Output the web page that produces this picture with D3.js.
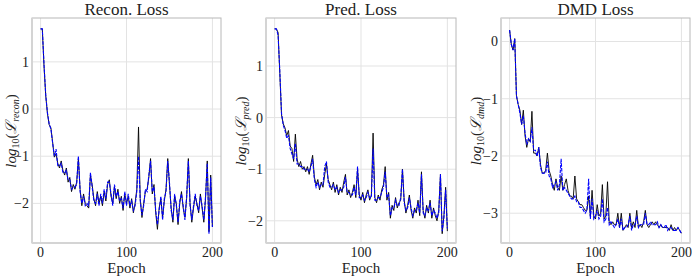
<!DOCTYPE html>
<html lang="en">
<head>
<meta charset="UTF-8">
<title>Loss curves | D3</title>
<style>
  body { margin: 0; background: #fff; }
  text { font-family: "Liberation Serif", "DejaVu Serif", serif; fill: #222; }
</style>
</head>
<body>
<div id="container"></div>
<script src="https://d3js.org/d3.v7.min.js"></script>
<script>
// epochs sampled every 2 steps
var epochs = d3.range(0, 201, 2);
var xTicks = [0, 100, 200];

var reconBlack = [
  1.70, 1.70, 0.9, 0.28, -0.1, -0.33, -0.40, -0.7, -1.02, -0.95,
  -1.15, -1.25, -1.1, -1.3, -1.4, -1.25, -1.55, -1.45, -1.75, -1.6,
  -1.7, -1.55, -1.05, -1.7, -2.05, -1.8, -2.0, -2.05, -2.1, -1.4,
  -1.6, -1.9, -2.05, -1.75, -2.0, -1.85, -2.05, -1.75, -1.95, -1.6,
  -1.5, -1.85, -2.0, -1.65, -1.9, -1.7, -2.0, -1.85, -2.15, -1.8,
  -2.0, -1.85, -2.1, -1.9, -2.2, -2.0, -1.7, -0.38, -1.9, -2.3,
  -2.0, -1.75, -1.7, -1.45, -1.05, -1.8, -1.6, -2.2, -2.55, -2.1,
  -1.9, -2.3, -1.95, -1.7, -1.05, -1.6, -2.1, -2.4, -1.85, -2.0,
  -2.45, -2.0, -1.75, -2.1, -2.3, -1.9, -1.05, -2.0, -2.4, -2.1,
  -1.85, -2.0, -2.2, -1.8, -2.1, -2.4, -1.9, -1.1, -2.6, -1.4,
  -2.5
];
var reconBlue = [
  1.70, 1.70, 0.95, 0.30, -0.08, -0.32, -0.42, -0.72, -1.0, -0.85,
  -1.2, -1.2, -1.15, -1.35, -1.35, -1.3, -1.5, -1.5, -1.7, -1.65,
  -1.65, -1.6, -1.0, -1.75, -2.0, -1.85, -2.05, -2.0, -2.05, -1.35,
  -1.65, -1.95, -2.0, -1.8, -2.05, -1.8, -2.0, -1.7, -1.9, -1.55,
  -1.55, -1.8, -2.05, -1.6, -1.85, -1.75, -1.95, -1.9, -2.1, -1.75,
  -2.05, -1.8, -2.05, -1.95, -2.15, -2.05, -1.75, -1.0, -1.95, -2.25,
  -2.05, -1.7, -1.75, -1.4, -1.1, -1.75, -1.65, -2.15, -2.45, -2.15,
  -1.85, -2.35, -1.9, -1.75, -1.1, -1.55, -2.15, -2.35, -1.8, -2.05,
  -2.4, -1.95, -1.8, -2.05, -2.35, -1.85, -1.1, -2.05, -2.35, -2.05,
  -1.8, -2.05, -2.15, -1.85, -2.05, -2.35, -1.85, -1.15, -2.65, -1.45,
  -2.5
];

var predBlack = [
  1.72, 1.72, 1.65, 0.85, 0.05, -0.12, -0.2, -0.35, -0.25, -0.55,
  -0.6, -0.85, -0.32, -0.8, -0.95, -0.85, -1.0, -0.95, -1.05, -0.95,
  -1.1, -0.9, -0.73, -1.15, -1.3, -1.2, -1.4, -1.25, -1.35, -1.1,
  -0.9, -1.2, -1.3, -1.4, -1.25, -1.45, -1.3, -1.5, -1.35, -1.45,
  -1.25, -1.1, -1.5, -1.4, -1.55, -1.45, -1.3, -1.55, -1.0, -1.5,
  -1.6, -1.45, -1.65, -1.5, -1.4, -1.6, -1.5, -0.3, -1.55, -1.65,
  -1.5, -1.6, -1.4, -1.3, -0.95, -1.6, -1.45, -1.95, -1.7, -1.8,
  -1.55, -1.75, -1.65, -1.6, -1.0, -1.6, -1.85, -1.7, -1.5, -1.8,
  -1.95, -1.75, -1.85, -1.6, -1.9, -1.05, -1.8, -1.95, -1.7, -1.85,
  -1.6, -1.95, -1.75, -1.9, -2.0, -1.8, -1.1, -2.25, -1.9, -1.35,
  -2.2
];
var predBlue = [
  1.72, 1.72, 1.6, 0.9, 0.08, -0.15, -0.25, -0.4, -0.35, -0.6,
  -0.7, -0.8, -0.5, -0.9, -0.9, -0.95, -0.95, -1.0, -1.0, -1.0,
  -1.05, -0.95, -0.8, -1.2, -1.35, -1.25, -1.35, -1.3, -1.3, -0.95,
  -0.85, -1.25, -1.35, -1.35, -1.3, -1.4, -1.35, -1.45, -1.4, -1.4,
  -1.35, -1.15, -1.45, -1.45, -1.5, -1.5, -1.35, -1.5, -0.95, -1.55,
  -1.55, -1.5, -1.6, -1.55, -1.45, -1.55, -1.55, -0.6, -1.6, -1.6,
  -1.55, -1.55, -1.45, -1.35, -1.05, -1.55, -1.5, -1.9, -1.75, -1.75,
  -1.6, -1.7, -1.7, -1.55, -1.0, -1.65, -1.8, -1.75, -1.55, -1.75,
  -1.9, -1.8, -1.8, -1.65, -1.85, -1.1, -1.85, -1.9, -1.75, -1.8,
  -1.65, -1.9, -1.8, -1.85, -1.95, -1.85, -1.1, -2.2, -1.95, -1.4,
  -2.15
];

var dmdBlack = [
  0.2, -0.05, -0.15, 0.05, -0.95, -1.1, -1.2, -1.45, -1.2, -1.65,
  -1.85, -1.7, -1.75, -1.22, -1.95, -1.95, -2.0, -1.85, -2.15, -2.3,
  -2.3, -2.25, -1.95, -2.25, -2.35, -2.5, -2.6, -2.4, -2.55, -2.6,
  -2.35, -2.6, -2.5, -2.4, -2.6, -2.7, -2.7, -2.75, -2.35, -2.75,
  -2.8, -2.85, -2.85, -2.9, -2.95, -2.95, -2.7, -3.05, -2.6, -3.05,
  -3.1, -2.85, -3.05, -3.0, -2.5, -3.1, -3.05, -2.45, -3.15, -3.2,
  -3.15, -3.2, -3.2, -3.0, -3.25, -3.0, -3.3, -3.25, -3.2, -3.25,
  -3.0, -3.25, -3.15, -3.25, -2.95, -3.25, -3.2, -3.25, -3.15, -2.95,
  -3.2, -3.25, -3.2, -3.15, -3.2, -3.15, -3.2, -3.25, -3.2, -3.25,
  -3.25, -3.25, -3.25, -3.3, -3.2, -3.3, -3.25, -3.3, -3.25, -3.3,
  -3.35
];
var dmdBlue = [
  0.2, -0.05, -0.15, 0.05, -0.95, -1.1, -1.25, -1.45, -1.3, -1.6,
  -1.8, -1.7, -1.75, -1.5, -1.9, -1.9, -2.0, -1.85, -2.2, -2.3,
  -2.3, -2.3, -2.1, -2.35, -2.4, -2.55, -2.5, -2.45, -2.6, -2.5,
  -2.05, -2.6, -2.55, -2.6, -2.65, -2.7, -2.75, -2.75, -2.7, -2.8,
  -2.8, -2.9, -2.9, -2.95, -3.0, -2.95, -2.4, -3.1, -2.75, -3.1,
  -3.05, -2.95, -3.1, -3.05, -2.75, -3.15, -3.1, -2.9, -3.2, -3.15,
  -3.2, -3.25, -3.2, -3.1, -3.25, -3.1, -3.3, -3.25, -3.25, -3.2,
  -3.05, -3.3, -3.2, -3.2, -3.05, -3.25, -3.2, -3.2, -3.2, -3.0,
  -3.2, -3.2, -3.15, -3.2, -3.2, -3.2, -3.15, -3.25, -3.2, -3.25,
  -3.25, -3.2, -3.3, -3.25, -3.25, -3.3, -3.3, -3.3, -3.25, -3.3,
  -3.35
];

var panels = [
  { title: "Recon. Loss", sub: "recon", black: reconBlack, blue: reconBlue,
    yTicks: [-2, -1, 0, 1], yDomain: [-2.84, 1.93],
    left: 32, right: 221, labelX: 16 },
  { title: "Pred. Loss", sub: "pred", black: predBlack, blue: predBlue,
    yTicks: [-2, -1, 0, 1], yDomain: [-2.43, 1.93],
    left: 266, right: 456, labelX: 246 },
  { title: "DMD Loss", sub: "dmd", black: dmdBlack, blue: dmdBlue,
    yTicks: [-3, -2, -1, 0], yDomain: [-3.52, 0.41],
    left: 501, right: 690, labelX: 481 }
];

var plotTop = 18, plotBottom = 243;

var svg = d3.select("#container").append("svg")
  .attr("width", 692)
  .attr("height", 277);

function fmt(v) {
  return v < 0 ? "\u2212" + Math.abs(v) : "" + v;
}

panels.forEach(function(p) {
  var x = d3.scaleLinear().domain([-10, 210]).range([p.left, p.right]);
  var y = d3.scaleLinear().domain(p.yDomain).range([plotBottom, plotTop]);
  var g = svg.append("g");

  // grid
  g.selectAll("line.vgrid").data(xTicks).enter().append("line")
    .attr("x1", function(d) { return x(d); })
    .attr("x2", function(d) { return x(d); })
    .attr("y1", plotTop).attr("y2", plotBottom)
    .attr("stroke", "#e3e3e3").attr("stroke-width", 1);
  g.selectAll("line.hgrid").data(p.yTicks).enter().append("line")
    .attr("x1", p.left).attr("x2", p.right)
    .attr("y1", function(d) { return y(d); })
    .attr("y2", function(d) { return y(d); })
    .attr("stroke", "#e3e3e3").attr("stroke-width", 1);

  // frame
  g.append("rect")
    .attr("x", p.left).attr("y", plotTop)
    .attr("width", p.right - p.left).attr("height", plotBottom - plotTop)
    .attr("fill", "none").attr("stroke", "#b8b8b8").attr("stroke-width", 1);
  g.append("line").attr("x1", p.left).attr("x2", p.left).attr("y1", plotTop).attr("y2", plotBottom)
    .attr("stroke", "#d4d4d4").attr("stroke-width", 2);
  g.append("line").attr("x1", p.left).attr("x2", p.right).attr("y1", plotBottom).attr("y2", plotBottom)
    .attr("stroke", "#d4d4d4").attr("stroke-width", 2);

  // tick labels
  g.selectAll("text.xt").data(xTicks).enter().append("text")
    .attr("x", function(d) { return x(d); })
    .attr("y", 257)
    .attr("text-anchor", "middle")
    .style("font-size", "14px")
    .text(function(d) { return d; });
  g.selectAll("text.yt").data(p.yTicks).enter().append("text")
    .attr("x", p.left - 3)
    .attr("y", function(d) { return y(d) + 5; })
    .attr("text-anchor", "end")
    .style("font-size", "14px")
    .text(fmt);

  // lines
  var line = function(vals) {
    return d3.line()
      .x(function(d, i) { return x(epochs[i]); })
      .y(function(d) { return y(d); })(vals);
  };
  g.append("path").attr("d", line(p.black))
    .attr("fill", "none").attr("stroke", "#000").attr("stroke-width", 0.9);
  g.append("path").attr("d", line(p.blue))
    .attr("fill", "none").attr("stroke", "#0000ff").attr("stroke-width", 1.1)
    .attr("stroke-dasharray", "3.5,1.2");

  // titles and labels
  g.append("text")
    .attr("x", (p.left + p.right) / 2).attr("y", 15)
    .attr("text-anchor", "middle")
    .style("font-size", "17px")
    .text(p.title);
  g.append("text")
    .attr("x", (p.left + p.right) / 2).attr("y", 273)
    .attr("text-anchor", "middle")
    .style("font-size", "15px")
    .text("Epoch");

  var yl = g.append("text")
    .attr("transform", "translate(" + p.labelX + ",131) rotate(-90)")
    .attr("text-anchor", "middle")
    .style("font-size", "15px")
    .style("font-style", "italic");
  yl.append("tspan").text("log");
  yl.append("tspan").attr("dy", 3).style("font-size", "10px").style("font-style", "normal").text("10");
  yl.append("tspan").attr("dy", -3).style("font-style", "normal").text("(");
  yl.append("tspan").text("\u2112");
  yl.append("tspan").attr("dy", 3).style("font-size", "10px").text(p.sub);
  yl.append("tspan").attr("dy", -3).style("font-style", "normal").text(")");
});
</script>
</body>
</html>
